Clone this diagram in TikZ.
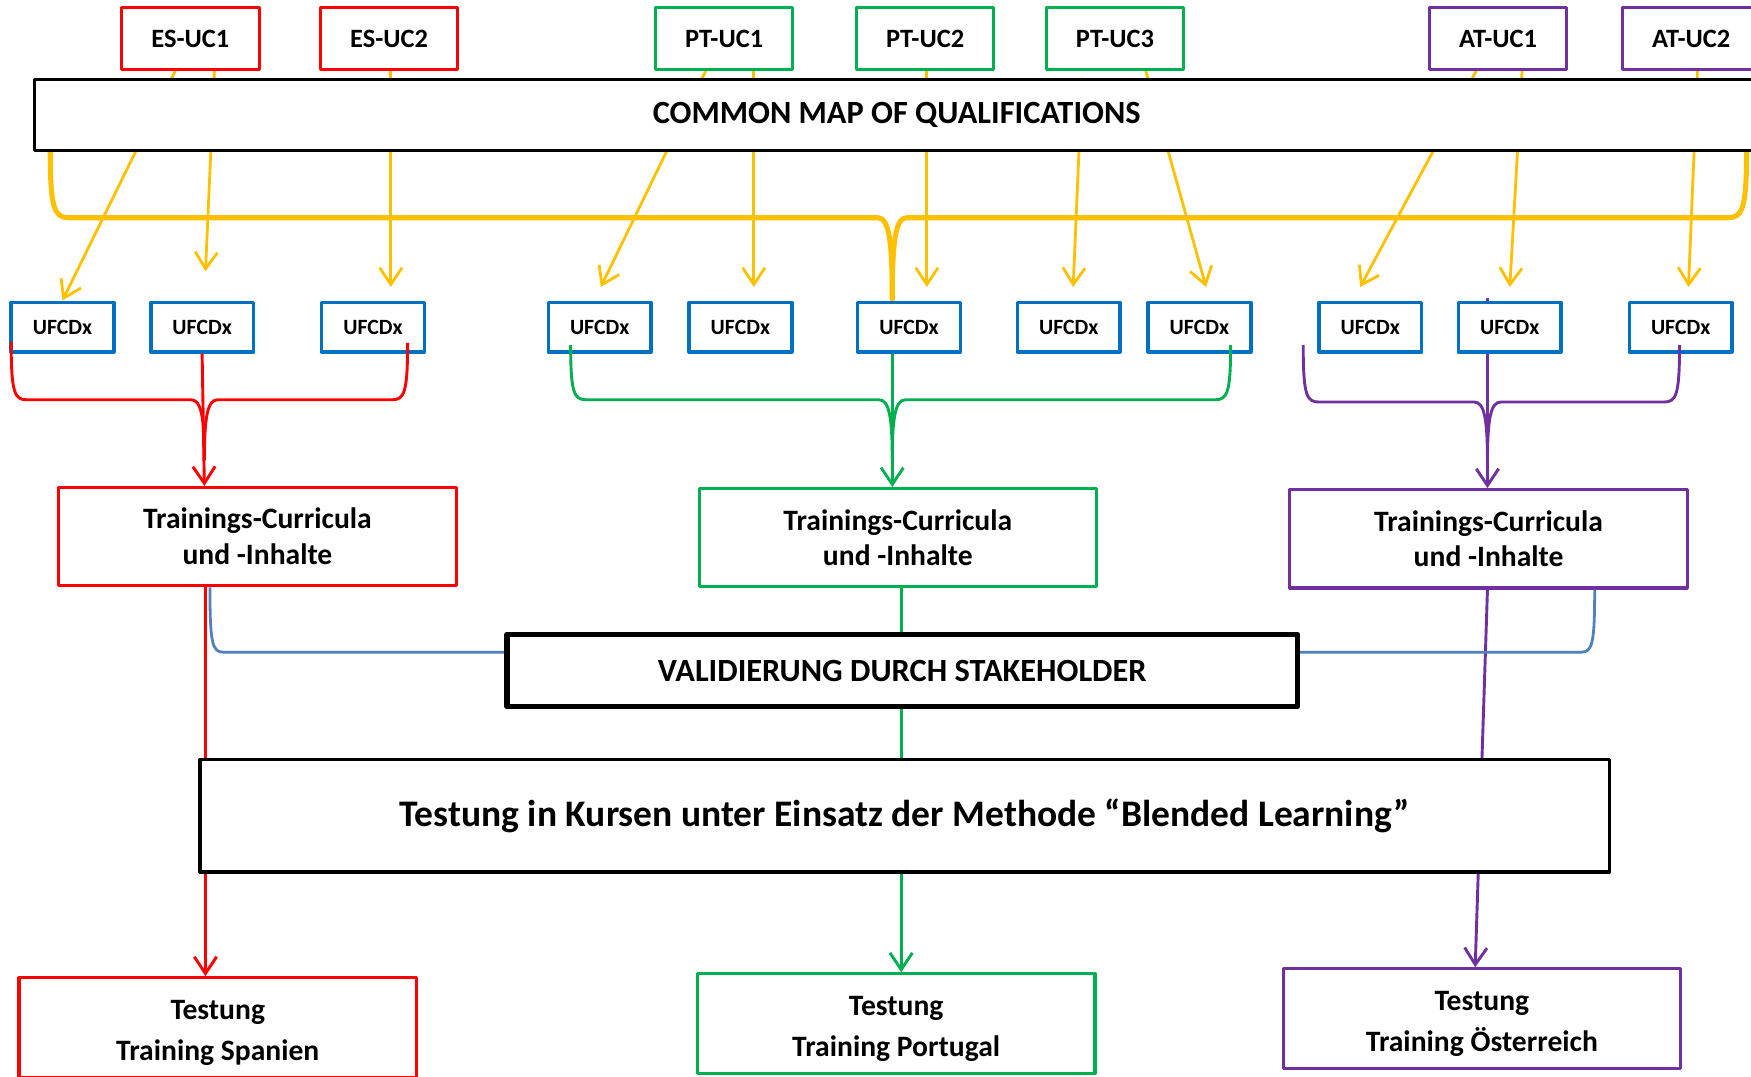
\documentclass[tikz,border=0pt]{standalone}
\usepackage{fontspec}
\setmainfont{Carlito}
\usetikzlibrary{arrows.meta,backgrounds,calc}
\definecolor{cred}{RGB}{255,0,0}
\definecolor{cgreen}{RGB}{0,176,80}
\definecolor{cpurple}{RGB}{112,48,160}
\definecolor{cblue}{RGB}{0,112,192}
\definecolor{cyellow}{RGB}{255,192,0}
\definecolor{csteel}{RGB}{79,129,189}
\begin{document}
\begin{tikzpicture}[x=1pt,y=-1pt,
  box/.style={draw, fill=white, inner sep=0pt, align=center, line join=round},
  ucbox/.style={box, line width=2.8pt, minimum width=123pt, minimum height=55pt,
    font=\fontsize{23.7}{27}\selectfont\bfseries},
  ufcd/.style={box, draw=cblue, line width=3.2pt, minimum width=92pt, minimum height=44pt,
    font=\fontsize{19.5}{23}\selectfont\bfseries},
  tcbox/.style={box, line width=2.8pt, minimum width=356pt, minimum height=88pt,
    font=\fontsize{26.5}{32}\selectfont\bfseries},
  tsbox/.style={box, line width=2.8pt, minimum width=356pt, minimum height=89pt,
    font=\fontsize{26.5}{36.5}\selectfont\bfseries, text height=60.5pt, text depth=2pt},
  tip/.style={-{Straight Barb[length=15pt,width=20pt]}},
  yarr/.style={draw=cyellow, line width=2.5pt, tip},
  ybr/.style={draw=cyellow, line width=4.5pt},
  rline/.style={draw=cred, line width=2.6pt},
  gline/.style={draw=cgreen, line width=2.6pt},
  pline/.style={draw=cpurple, line width=2.6pt},
  sline/.style={draw=csteel, line width=2.5pt},
]
\useasboundingbox (0,0) rectangle (1568,964);

% top boxes
\node[ucbox, draw=cred]    (es1) at (170.5,34.5) {ES-UC1};
\node[ucbox, draw=cred]    (es2) at (348.5,34.5) {ES-UC2};
\node[ucbox, draw=cgreen]  (pt1) at (648.5,34.5) {PT-UC1};
\node[ucbox, draw=cgreen]  (pt2) at (828.5,34.5) {PT-UC2};
\node[ucbox, draw=cgreen]  (pt3) at (998.5,34.5) {PT-UC3};
\node[ucbox, draw=cpurple] (at1) at (1341.5,34.5) {AT-UC1};
\node[ucbox, draw=cpurple] (at2) at (1514.5,34.5) {AT-UC2};

% common map
\node[box, line width=3pt, minimum width=1544pt, minimum height=64pt,
  font=\fontsize{29}{33}\selectfont\bfseries] (cmap) at (803,103) {COMMON MAP OF QUALIFICATIONS};

% UFCDx boxes
\foreach \i/\x in {1/56,2/181,3/334,4/537,5/663,6/814,7/957,8/1074,9/1227,10/1352,11/1505}
  \node[ufcd] (u\i) at (\x,293) {UFCDx};

% trainings boxes
\node[tcbox, draw=cred]    (tces) at (230.5,480.5) {Trainings-Curricula\\und -Inhalte};
\node[tcbox, draw=cgreen]  (tcpt) at (804,481.5)   {Trainings-Curricula\\und -Inhalte};
\node[tcbox, draw=cpurple] (tcat) at (1333,482.5)  {Trainings-Curricula\\und -Inhalte};

% validation
\node[box, line width=4.5pt, minimum width=708pt, minimum height=65pt,
  font=\fontsize{29}{33}\selectfont\bfseries] (val) at (808,600.5) {VALIDIERUNG DURCH STAKEHOLDER};

% testing
\node[box, line width=3pt, minimum width=1262pt, minimum height=101pt,
  font=\fontsize{33.6}{40}\selectfont\bfseries] (test) at (810,730.5)
  {Testung in Kursen unter Einsatz der Methode “Blended Learning”};

\node[tsbox, draw=cred]    (tses) at (195,920)   {Testung\\Training Spanien};
\node[tsbox, draw=cgreen]  (tspt) at (802.5,916.5) {Testung\\Training Portugal};
\node[tsbox, draw=cpurple] (tsat) at (1327,912)  {Testung\\Training Österreich};

\coordinate (pstart) at (1332,267);

\begin{pgfonlayer}{background}
  % yellow arrows
  \draw[yarr] (es1.south -| 157,0) -- (56,269);
  \draw[yarr] (es1.south -| 192,0) -- (184,243);
  \draw[yarr] (es2.south -| 350,0) -- (350,257);
  \draw[yarr] (pt1.south -| 632,0) -- (538,257);
  \draw[yarr] (pt1.south -| 675,0) -- (675,257);
  \draw[yarr] (pt2.south -| 830,0) -- (830,257);
  \draw[yarr] (cmap.north -| 969,0) -- (961,257);
  \draw[yarr] (pt3.south -| 1026,0) -- (1080,257);
  \draw[yarr] (at1.south -| 1322,0) -- (1218,257);
  \draw[yarr] (at1.south -| 1363,0) -- (1352,257);
  \draw[yarr] (at2.south -| 1520,0) -- (1512,257);
  % yellow bracket
  \draw[ybr, line cap=round] (cmap.south -| 45,0) .. controls (45,188) and (49,195) .. (62,195)
     -- (786,195) .. controls (796,195) and (799,215) .. (799,268);
  \draw[ybr, line cap=round] (cmap.south -| 1564,0) .. controls (1564,188) and (1560,195) .. (1547,195)
     -- (812,195) .. controls (802,195) and (799,215) .. (799,268);
  % long vertical connectors
  \draw[rline, tip] (tces.south -| 184,0) -- (tses.north -| 184,0);
  \draw[gline, tip] (tcpt.south -| 807,0) -- (tspt.north -| 807,0);
  \draw[pline, tip] (tcat.south -| 1332,0) -- (tsat.north -| 1321,0);
  \draw[pline, tip] (pstart) -- (tcat.north -| 1332,0);
  % stakeholder connectors
  \draw[sline] (tces.south -| 188,0) .. controls (188,576) and (190,584) .. (200,584) -- (val.west |- 0,584);
  \draw[sline] (tcat.south -| 1428,0) .. controls (1428,576) and (1426,584) .. (1416,584) -- (val.east |- 0,584);
\end{pgfonlayer}

% red brace
\draw[rline, tip] (u2.south) -- (tces.north -| 183,0);
\draw[rline] (10,306) .. controls (10,352) and (13,358) .. (24,358) -- (171,358)
   .. controls (180,358) and (183,372) .. (183,412);
\draw[rline] (365,307) .. controls (365,352) and (362,358) .. (351,358) -- (195,358)
   .. controls (186,358) and (183,372) .. (183,412);
% green brace
\draw[gline, tip] (u6.south -| 799,0) -- (tcpt.north -| 799,0);
\draw[gline] (511,309) .. controls (511,352) and (514,358) .. (525,358) -- (787,358)
   .. controls (796,358) and (799,372) .. (799,412);
\draw[gline] (1102,309) .. controls (1102,352) and (1099,358) .. (1088,358) -- (811,358)
   .. controls (802,358) and (799,372) .. (799,412);
% purple brace
\draw[pline] (1167,309) .. controls (1167,354) and (1170,360) .. (1181,360) -- (1320,360)
   .. controls (1329,360) and (1332,374) .. (1332,414);
\draw[pline] (1504,309) .. controls (1504,354) and (1501,360) .. (1490,360) -- (1344,360)
   .. controls (1335,360) and (1332,374) .. (1332,414);
\end{tikzpicture}
\end{document}
